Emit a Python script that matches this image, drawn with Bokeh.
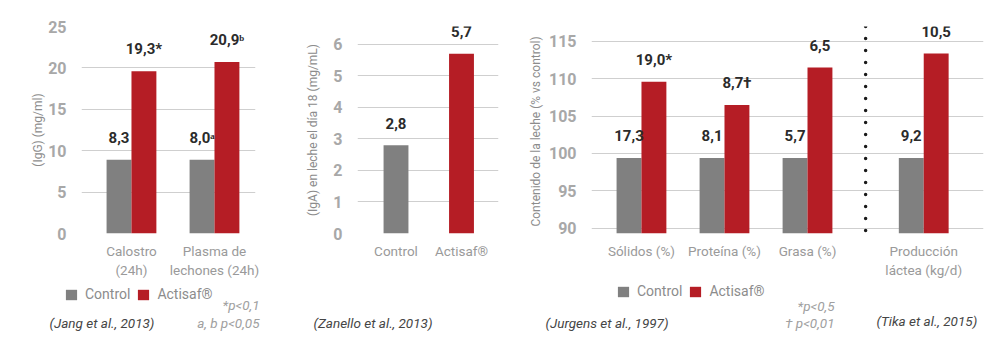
from bokeh.plotting import figure
from bokeh.layouts import row, column
from bokeh.models import (ColumnDataSource, LabelSet, Label, Legend, LegendItem,
                          Range1d, FixedTicker, Span)
from bokeh.core.properties import value
from bokeh.embed import file_html
from bokeh.resources import INLINE

# ---------------- data ----------------
# Panel 1 (Jang et al., 2013)
p1_categories = ["Calostro\n(24h)", "Plasma de\nlechones (24h)"]
p1_control = [8.9, 8.9]
p1_actisaf = [19.6, 20.7]
p1_control_labels = ["8,3", "8,0ᵃ"]
p1_actisaf_labels = ["19,3*", "20,9ᵇ"]
p1_ticks = [0, 5, 10, 15, 20, 25]

# Panel 2 (Zanello et al., 2013)
p2_categories = ["Control", "Actisaf®"]
p2_values = [2.8, 5.7]
p2_labels = ["2,8", "5,7"]
p2_ticks = [0, 1, 2, 3, 4, 5, 6]

# Panel 3 (Jurgens et al., 1997 / Tika et al., 2015)
p3_categories = ["Sólidos (%)", "Proteína (%)", "Grasa (%)", "Producción\nláctea (kg/d)"]
p3_control = [99.4, 99.4, 99.4, 99.4]
p3_actisaf = [109.6, 106.5, 111.5, 113.4]
p3_control_labels = ["17,3", "8,1", "5,7", "9,2"]
p3_actisaf_labels = ["19,0*", "8,7†", "6,5", "10,5"]
p3_ticks = [90, 95, 100, 105, 110, 115]

series_names = ["Control", "Actisaf®"]

# ---------------- style ----------------
GRAY = "#808080"
RED = "#b51d25"
GRID = "#cfcfcf"
TICK_COL = "#a8a8a8"
CAT_COL = "#9a9a9a"
VAL_COL = "#2b2b2b"
NOTE_COL = "#454545"
SIG_COL = "#a0a0a0"
FONT = "Roboto"
W = 1000
H = 356
TOP_H = 280          # height of the chart row
BASE = 239           # y (px) of the bars' base line
STRIP_H = H - TOP_H  # legend / notes strip


def base_fig(width, left, right, top, x_range, y_range, ticks):
    p = figure(width=width, height=TOP_H, output_backend="svg", toolbar_location=None,
               x_range=x_range, y_range=y_range,
               min_border_left=left, min_border_right=right,
               min_border_top=top, min_border_bottom=TOP_H - BASE)
    p.outline_line_color = None
    p.background_fill_color = None
    p.border_fill_color = None
    p.xgrid.visible = False
    p.ygrid.grid_line_color = GRID
    p.ygrid.grid_line_width = 1.2
    p.yaxis.ticker = FixedTicker(ticks=ticks)
    p.yaxis.axis_line_color = None
    p.yaxis.major_tick_line_color = None
    p.yaxis.minor_tick_line_color = None
    p.yaxis.major_label_text_color = TICK_COL
    p.yaxis.major_label_text_font = FONT
    p.yaxis.major_label_text_font_size = "16px"
    p.yaxis.major_label_text_font_style = "bold"
    p.yaxis.major_label_standoff = 9
    p.yaxis.axis_label_text_font = FONT
    p.yaxis.axis_label_text_font_style = "normal"
    p.yaxis.axis_label_text_font_size = "12px"
    p.yaxis.axis_label_text_color = "#8c8c8c"
    p.xaxis.axis_line_color = None
    p.xaxis.major_tick_line_color = None
    p.xaxis.minor_tick_line_color = None
    p.xaxis.major_label_text_color = CAT_COL
    p.xaxis.major_label_text_font = FONT
    p.xaxis.major_label_text_font_size = "13.5px"
    p.xaxis.major_label_standoff = 3
    return p


def value_labels(p, xs, ys, texts):
    src = ColumnDataSource(dict(x=xs, y=ys, t=texts))
    p.add_layout(LabelSet(x="x", y="y", text="t", source=src, y_offset=22,
                          text_align="center", text_baseline="middle",
                          text_font=value(FONT), text_font_size=value("15px"),
                          text_font_style=value("bold"), text_color=value(VAL_COL)))


BW1 = 0.30
# ---------------- panel 1 ----------------
n1 = len(p1_categories)
x1 = list(range(n1))
p1 = base_fig(270, 81, 15, 26, Range1d(-0.602, n1 - 1 + 0.494), Range1d(0, 25), p1_ticks)
p1.yaxis.axis_label = "(IgG) (mg/ml)"
p1.yaxis.axis_label_standoff = 0
s1 = ColumnDataSource(dict(xc=[x - BW1 / 2 for x in x1], xa=[x + BW1 / 2 for x in x1],
                           c=p1_control, a=p1_actisaf))
p1.vbar(x="xc", top="c", bottom=0, width=BW1, source=s1, color=GRAY, line_color=None)
p1.vbar(x="xa", top="a", bottom=0, width=BW1, source=s1, color=RED, line_color=None)
value_labels(p1, s1.data["xc"], p1_control, p1_control_labels)
value_labels(p1, s1.data["xa"], p1_actisaf, p1_actisaf_labels)
p1.xaxis.ticker = FixedTicker(ticks=x1)
p1.xaxis.major_label_overrides = {x: c for x, c in zip(x1, p1_categories)}

# ---------------- panel 2 ----------------
n2 = len(p2_categories)
x2 = list(range(n2))
BW2 = 0.38
p2_px = (BASE - 25) / 6.0
p2 = base_fig(250, 87, 22, 5, Range1d(-0.588, n2 - 1 + 0.565),
              Range1d(0, (BASE - 5) / p2_px), p2_ticks)
p2.yaxis.axis_label = "(IgA) en leche el día 18 (mg/mL)"
p2.yaxis.axis_label_standoff = 10
s2 = ColumnDataSource(dict(x=x2, v=p2_values, col=[GRAY, RED]))
p2.vbar(x="x", top="v", bottom=0, width=BW2, source=s2, color="col", line_color=None)
value_labels(p2, x2, p2_values, p2_labels)
p2.xaxis.ticker = FixedTicker(ticks=x2)
p2.xaxis.major_label_overrides = {x: c for x, c in zip(x2, p2_categories)}

# ---------------- panel 3 ----------------
n3 = len(p3_categories)
x3 = [i + (0.4 if i == n3 - 1 else 0) for i in range(n3)]
sep = (x3[-2] + x3[-1]) / 2
p3_base = 89.29
p3 = base_fig(480, 71, 17, 5, Range1d(-0.602, x3[-1] + 0.72), Range1d(p3_base, 117.0), p3_ticks)
p3.yaxis.axis_label = "Contenido de la leche  (% vs control)"
p3.yaxis.axis_label_standoff = 3
s3 = ColumnDataSource(dict(xc=[x - BW1 / 2 for x in x3], xa=[x + BW1 / 2 for x in x3],
                           c=p3_control, a=p3_actisaf))
p3.vbar(x="xc", top="c", bottom=p3_base, width=BW1, source=s3, color=GRAY, line_color=None)
p3.vbar(x="xa", top="a", bottom=p3_base, width=BW1, source=s3, color=RED, line_color=None)
value_labels(p3, s3.data["xc"], p3_control, p3_control_labels)
value_labels(p3, s3.data["xa"], p3_actisaf, p3_actisaf_labels)
p3.xaxis.ticker = FixedTicker(ticks=x3)
p3.xaxis.major_label_overrides = {x: c for x, c in zip(x3, p3_categories)}
p3.add_layout(Span(location=sep, dimension="height", line_color="#1a1a1a",
                   line_width=3.5, line_dash="0 12", line_cap="round"))

# ---------------- legend / notes strip ----------------
ps = figure(width=W, height=STRIP_H, output_backend="svg", toolbar_location=None,
            x_range=Range1d(0, W), y_range=Range1d(H, TOP_H),
            min_border_left=0, min_border_right=0, min_border_top=0, min_border_bottom=0)
ps.axis.visible = False
ps.grid.visible = False
ps.outline_line_color = None
ps.background_fill_color = None
ps.border_fill_color = None

# legend keys: zero-height renderers that only carry the series styling
key_src = ColumnDataSource(dict(x=[0], top=[H], bottom=[H]))
rk_c = ps.vbar(x="x", top="top", bottom="bottom", width=0, source=key_src,
               color=GRAY, line_color=None)
rk_a = ps.vbar(x="x", top="top", bottom="bottom", width=0, source=key_src,
               color=RED, line_color=None)


def add_legend(x, y):
    ps.add_layout(Legend(items=[LegendItem(label=series_names[0], renderers=[rk_c]),
                                LegendItem(label=series_names[1], renderers=[rk_a])],
                         location=(x, y), orientation="horizontal",
                         glyph_width=14, glyph_height=13,
                         label_standoff=7, spacing=6, padding=0, margin=0,
                         border_line_color=None, background_fill_alpha=0,
                         label_text_font=FONT, label_text_font_size="14px",
                         label_text_color="#8c8c8c"))


add_legend(64, H - 302)
add_legend(616, H - 299)


def note(text, x, y, color=NOTE_COL, align="left", size="13.5px"):
    ps.add_layout(Label(x=x, y=y, text=text, text_font=FONT, text_font_size=size,
                        text_color=color, text_font_style="italic",
                        text_align=align, text_baseline="middle"))


note("(Jang et al., 2013)", 49, 322)
note("*p<0,1", 259, 304, color=SIG_COL, align="right")
note("a, b p<0,05", 259, 322, color=SIG_COL, align="right")
note("(Zanello et al., 2013)", 313, 322)
note("(Jurgens et al., 1997)", 545, 322)
note("*p<0,5", 834, 305, color=SIG_COL, align="right")
note("† p<0,01", 834, 322, color=SIG_COL, align="right")
note("(Tika et al., 2015)", 876, 320)

layout = column(row(p1, p2, p3), ps)
open("out.html", "w").write(file_html(layout, INLINE))
